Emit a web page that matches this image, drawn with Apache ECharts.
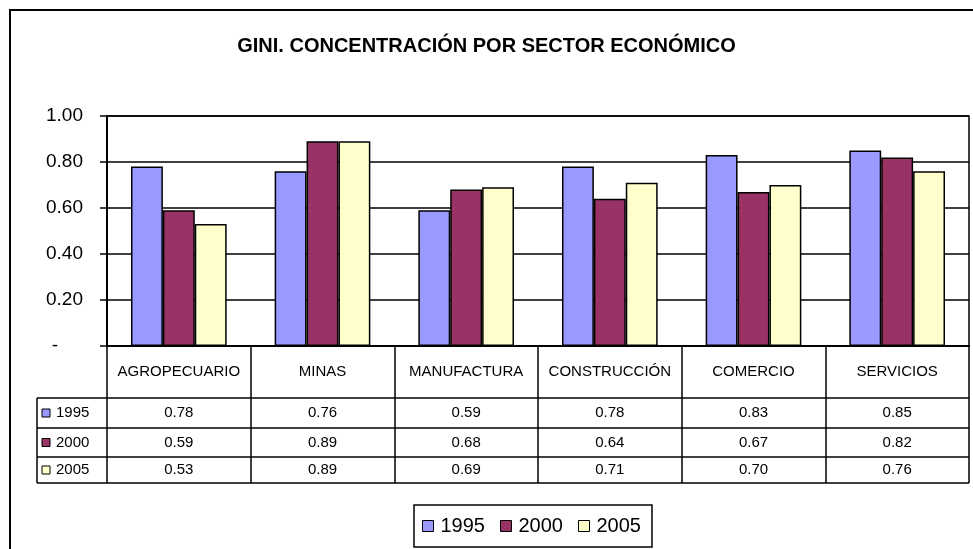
<!DOCTYPE html>
<html>
<head>
<meta charset="utf-8">
<script src="https://cdn.jsdelivr.net/npm/echarts@6/dist/echarts.min.js"></script>
<style>
  html, body { margin: 0; padding: 0; background: #fff; }
  #chart { width: 973px; height: 549px; }
</style>
</head>
<body>
<div id="chart"></div>
<script>
// data
var sectors = ['AGROPECUARIO', 'MINAS', 'MANUFACTURA', 'CONSTRUCCIÓN', 'COMERCIO', 'SERVICIOS'];
var years = ['1995', '2000', '2005'];
var gini1995 = [0.78, 0.76, 0.59, 0.78, 0.83, 0.85];
var gini2000 = [0.59, 0.89, 0.68, 0.64, 0.67, 0.82];
var gini2005 = [0.53, 0.89, 0.69, 0.71, 0.70, 0.76];
var yTicks = [0, 0.2, 0.4, 0.6, 0.8, 1.0];

var colors = ['#9999FF', '#993366', '#FFFFCC'];
var seriesData = [gini1995, gini2000, gini2005];
var FONT = '"Liberation Sans", Arial, sans-serif';

// layout of the plot and data table (px)
var plotL = 107, plotR = 969, plotT = 116, plotB = 346;
var tableL = 37;
var rowLines = [398, 428, 457, 483];   // bottom edge of label row, then of each data row

var chart = echarts.init(document.getElementById('chart'));

// main axis = header row of the table; one extra hidden axis per data row
var xAxes = [{
    type: 'category',
    data: sectors,
    position: 'bottom',
    axisLine: { show: true, lineStyle: { color: '#000', width: 2 } },
    axisTick: { show: true, interval: 0, length: rowLines[3] - plotB, lineStyle: { color: '#000', width: 1.5 } },
    axisLabel: {
        interval: 0,
        margin: (rowLines[0] - plotB) / 2,
        verticalAlign: 'middle',
        color: '#000', fontFamily: FONT, fontSize: 15
    }
}];
seriesData.forEach(function (arr, i) {
    var top = rowLines[i], bottom = rowLines[i + 1];
    xAxes.push({
        type: 'category',
        data: sectors,
        position: 'bottom',
        gridIndex: 0,
        axisLine: { show: false },
        axisTick: { show: false },
        axisLabel: {
            interval: 0,
            margin: (top + bottom) / 2 - plotB,
            verticalAlign: 'middle',
            color: '#000', fontFamily: FONT, fontSize: 15,
            formatter: function (v, idx) { return arr[idx].toFixed(2); }
        }
    });
});

var series = years.map(function (y, i) {
    return {
        name: y,
        type: 'bar',
        data: seriesData[i],
        barGap: '0%',
        barCategoryGap: '33.4%',
        itemStyle: { color: colors[i], borderColor: '#000', borderWidth: 1.5 },
        emphasis: { disabled: true }
    };
});

// outer frame, table lines and row headers
var graphics = [{
    type: 'rect',
    shape: { x: 10, y: 10, width: 1000, height: 600 },
    style: { fill: 'none', stroke: '#000', lineWidth: 2 },
    z: 0
}];
rowLines.forEach(function (y) {
    graphics.push({
        type: 'line',
        shape: { x1: tableL, y1: y, x2: plotR, y2: y },
        style: { stroke: '#000', lineWidth: 1.5 }
    });
});
graphics.push({
    type: 'line',
    shape: { x1: tableL, y1: rowLines[0], x2: tableL, y2: rowLines[3] },
    style: { stroke: '#000', lineWidth: 1.5 }
});
years.forEach(function (y, i) {
    var cy = (rowLines[i] + rowLines[i + 1]) / 2;
    graphics.push({
        type: 'rect',
        shape: { x: 42, y: cy - 4, width: 8, height: 8 },
        style: { fill: colors[i], stroke: '#000', lineWidth: 1 }
    });
    graphics.push({
        type: 'text',
        x: 56, y: cy,
        style: { text: y, font: '15px ' + FONT, fill: '#000', verticalAlign: 'middle' }
    });
});

var option = {
    animation: false,
    backgroundColor: '#fff',
    color: colors,
    title: {
        text: 'GINI. CONCENTRACIÓN POR SECTOR ECONÓMICO',
        left: 'center',
        top: 31,
        textStyle: { fontFamily: FONT, fontSize: 20, fontWeight: 'bold', color: '#000' }
    },
    legend: {
        data: years,
        left: 414,
        top: 505,
        padding: [11, 11, 11, 8],
        borderColor: '#000',
        borderWidth: 1.5,
        itemWidth: 11,
        itemHeight: 11,
        itemGap: 15,
        icon: 'rect',
        itemStyle: { borderColor: '#000', borderWidth: 1 },
        textStyle: { fontFamily: FONT, fontSize: 20, color: '#000', padding: [0, 0, 0, 2] }
    },
    grid: {
        left: plotL, right: 973 - plotR, top: plotT, bottom: 549 - plotB,
        show: true, borderColor: '#000', borderWidth: 1.5,
        containLabel: false
    },
    xAxis: xAxes,
    yAxis: {
        type: 'value',
        min: yTicks[0],
        max: yTicks[yTicks.length - 1],
        interval: 0.2,
        axisLine: { show: true, lineStyle: { color: '#000', width: 2 } },
        axisTick: { show: true, length: 7, lineStyle: { color: '#000', width: 1.5 } },
        splitLine: { show: true, lineStyle: { color: '#000', width: 1.5 } },
        axisLabel: {
            margin: 24,
            color: '#000', fontFamily: FONT, fontSize: 19,
            formatter: function (v) { return v === 0 ? '{d|-}' : v.toFixed(2); },
            rich: { d: { fontFamily: FONT, fontSize: 19, color: '#000', padding: [0, 25, 0, 0] } }
        }
    },
    graphic: graphics,
    series: series
};

chart.setOption(option);
</script>
</body>
</html>
